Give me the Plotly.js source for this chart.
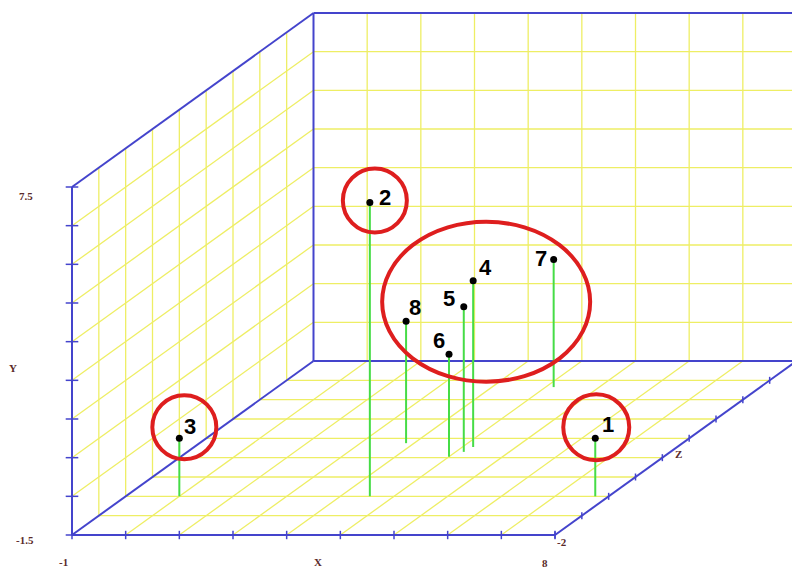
<!DOCTYPE html>
<html>
<head>
<meta charset="utf-8">
<script src="https://cdn.plot.ly/plotly-3.0.1.min.js"></script>
<style>
  html, body { margin: 0; padding: 0; background: #ffffff; }
  #chart { width: 792px; height: 568px; }
</style>
</head>
<body>
<div id="chart"></div>
<script>
// Observations (X, Y, Z) and their labels
const pointLabels = ['1', '2', '3', '4', '5', '6', '7', '8'];
const xValues = [7.75, 3.55, 0.0, 4.2, 4.15, 4.0, 4.15, 2.85];
const yValues = [0.0, 6.1, 0.0, 2.8, 2.25, 1.15, 1.8, 1.65];
const zValues = [0.0, 0.0, 0.0, 2.55, 2.3, 2.05, 5.65, 2.75];

// Box extents and the end labels printed on each axis
const xLimits = [-1, 8];
const yLimits = [-1.5, 7.5];
const zLimits = [-2, 7];
const xEndLabels = ['-1', '8'];
const yEndLabels = ['-1.5', '7.5'];
const zEndLabels = ['-2'];
const axisNames = ['X', 'Y', 'Z'];

// Oblique (cabinet) projection: depth runs up and to the right
const DEPTH_X = 0.5, DEPTH_Y = 0.5;
function proj(x, y, z) {
  const d = z - zLimits[0];
  return [x + DEPTH_X * d, y + DEPTH_Y * d];
}
function steps(lo, hi) {
  const out = [];
  for (let v = lo; v <= hi + 1e-9; v += 1) out.push(+v.toFixed(6));
  return out;
}

const [x0, x1] = xLimits, [y0, y1] = yLimits, [z0, z1] = zLimits;
const xGrid = steps(x0 + 1, x1 - 1);
const yGrid = steps(y0 + 1, y1 - 1);
const zGrid = steps(z0 + 1, z1 - 1);

// Polyline collector with gaps between segments
function segs() {
  const s = { x: [], y: [] };
  s.add = (a, b) => {
    const p = proj(...a), q = proj(...b);
    s.x.push(p[0], q[0], null);
    s.y.push(p[1], q[1], null);
  };
  return s;
}

// Yellow grid on the back wall, the left wall and the floor
const grid = segs();
xGrid.forEach(x => { grid.add([x, y0, z1], [x, y1, z1]); grid.add([x, y0, z0], [x, y0, z1]); });
yGrid.forEach(y => { grid.add([x0, y, z1], [x1, y, z1]); grid.add([x0, y, z0], [x0, y, z1]); });
zGrid.forEach(z => { grid.add([x0, y0, z], [x0, y1, z]); grid.add([x0, y0, z], [x1, y0, z]); });

// Blue frame edges
const frame = segs();
frame.add([x0, y0, z0], [x0, y1, z0]);
frame.add([x0, y0, z0], [x1, y0, z0]);
frame.add([x0, y1, z0], [x0, y1, z1]);
frame.add([x0, y0, z0], [x0, y0, z1]);
frame.add([x0, y0, z1], [x0, y1, z1]);
frame.add([x0, y1, z1], [x1, y1, z1]);
frame.add([x0, y0, z1], [x1, y0, z1]);
frame.add([x1, y0, z0], [x1, y0, z1]);

// Tick marks along the three labelled edges
const yTickPts = steps(y0, y1).map(y => proj(x0, y, z0));
const xTickPts = steps(x0, x1).map(x => proj(x, y0, z0));
const zTickPts = steps(z0, z1).map(z => proj(x1, y0, z));

// Drop lines from each observation to the floor
const drops = segs();
const dots = { x: [], y: [] };
xValues.forEach((x, i) => {
  drops.add([x, yValues[i], zValues[i]], [x, y0, zValues[i]]);
  const p = proj(x, yValues[i], zValues[i]);
  dots.x.push(p[0]); dots.y.push(p[1]);
});

const BLUE = 'rgb(68,68,204)';
const traces = [
  { type: 'scatter', mode: 'lines', x: grid.x, y: grid.y, hoverinfo: 'skip',
    line: { color: 'rgb(238,238,100)', width: 1.3 } },
  { type: 'scatter', mode: 'lines', x: frame.x, y: frame.y, hoverinfo: 'skip',
    line: { color: BLUE, width: 2 } },
  { type: 'scatter', mode: 'markers', x: yTickPts.map(p => p[0]), y: yTickPts.map(p => p[1]),
    hoverinfo: 'skip', marker: { symbol: 'line-ew', size: 9, line: { color: BLUE, width: 1.5 } } },
  { type: 'scatter', mode: 'markers', x: xTickPts.map(p => p[0]), y: xTickPts.map(p => p[1]),
    hoverinfo: 'skip', marker: { symbol: 'line-ns', size: 6, line: { color: BLUE, width: 1.5 } } },
  { type: 'scatter', mode: 'markers', x: zTickPts.map(p => p[0]), y: zTickPts.map(p => p[1]),
    hoverinfo: 'skip', marker: { symbol: 'line-ns', size: 5, line: { color: BLUE, width: 1.5 } } },
  { type: 'scatter', mode: 'lines', x: drops.x, y: drops.y, hoverinfo: 'skip',
    line: { color: 'rgb(70,220,70)', width: 2 } },
  { type: 'scatter', mode: 'markers', x: dots.x, y: dots.y, text: pointLabels,
    marker: { color: '#000000', size: 7 } }
];

// Point number placement (pixel offsets from each dot)
const labelShift = {
  '1': [13, 14], '2': [15, 5], '3': [11, 12], '4': [12, 13],
  '5': [-15, 8], '6': [-10, 14], '7': [-13, 1], '8': [9, 14]
};
const annotations = pointLabels.map((t, i) => ({
  x: dots.x[i], y: dots.y[i], xref: 'x', yref: 'y', text: t, showarrow: false,
  xshift: labelShift[t][0], yshift: labelShift[t][1],
  font: { family: 'Liberation Sans, Arial, sans-serif', size: 22, color: '#000000', weight: 'bold' }
}));

// Axis end values and axis names
const axisFont = { family: 'Liberation Serif, Times New Roman, serif', size: 11, color: '#5a2a2a', weight: 'bold' };
function axisText(pt, text, dx, dy) {
  annotations.push({ x: pt[0], y: pt[1], xref: 'x', yref: 'y', text, showarrow: false,
    xshift: dx, yshift: dy, font: axisFont });
}
axisText(proj(x0, y1, z0), yEndLabels[1], -46, -9);
axisText(proj(x0, y0, z0), yEndLabels[0], -47, -5);
axisText(proj(x0, y0, z0), xEndLabels[0], -9, -27);
axisText(proj(x1, y0, z0), xEndLabels[1], -10, -28);
axisText(proj(x1, y0, z0), zEndLabels[0], 7, -7);
axisText(proj((x0 + x1) / 2, y0, z0), axisNames[0], 4, -27);
axisText(proj(x0, (y0 + y1) / 2, z0), axisNames[1], -59, -7);
axisText(proj(x1, y0, (z0 + z1) / 2), axisNames[2], 3, -6);

// Red rings marking the outliers and the main cluster (anchored on a member point)
function ring(i, dx, dy, rx, ry) {
  return { type: 'circle', xref: 'x', yref: 'y', xsizemode: 'pixel', ysizemode: 'pixel',
    xanchor: dots.x[i], yanchor: dots.y[i],
    x0: dx - rx, x1: dx + rx, y0: dy - ry, y1: dy + ry,
    line: { color: 'rgb(222,30,30)', width: 4 } };
}
const shapes = [
  ring(1, 5, 2, 32, 32),
  ring(2, 5, 11, 32, 32),
  ring(0, 1, 11, 33, 33),
  ring(3, 13, -21, 104, 80)
];

const layout = {
  width: 792, height: 568,
  margin: { l: 0, r: 0, t: 0, b: 0, pad: 0 },
  paper_bgcolor: '#ffffff', plot_bgcolor: '#ffffff',
  showlegend: false,
  xaxis: { range: [-2.3416, 12.416], visible: false, fixedrange: true },
  yaxis: { range: [-2.3534, 12.336], visible: false, fixedrange: true },
  annotations, shapes
};

Plotly.newPlot('chart', traces, layout, { displayModeBar: false, staticPlot: true });
</script>
</body>
</html>
